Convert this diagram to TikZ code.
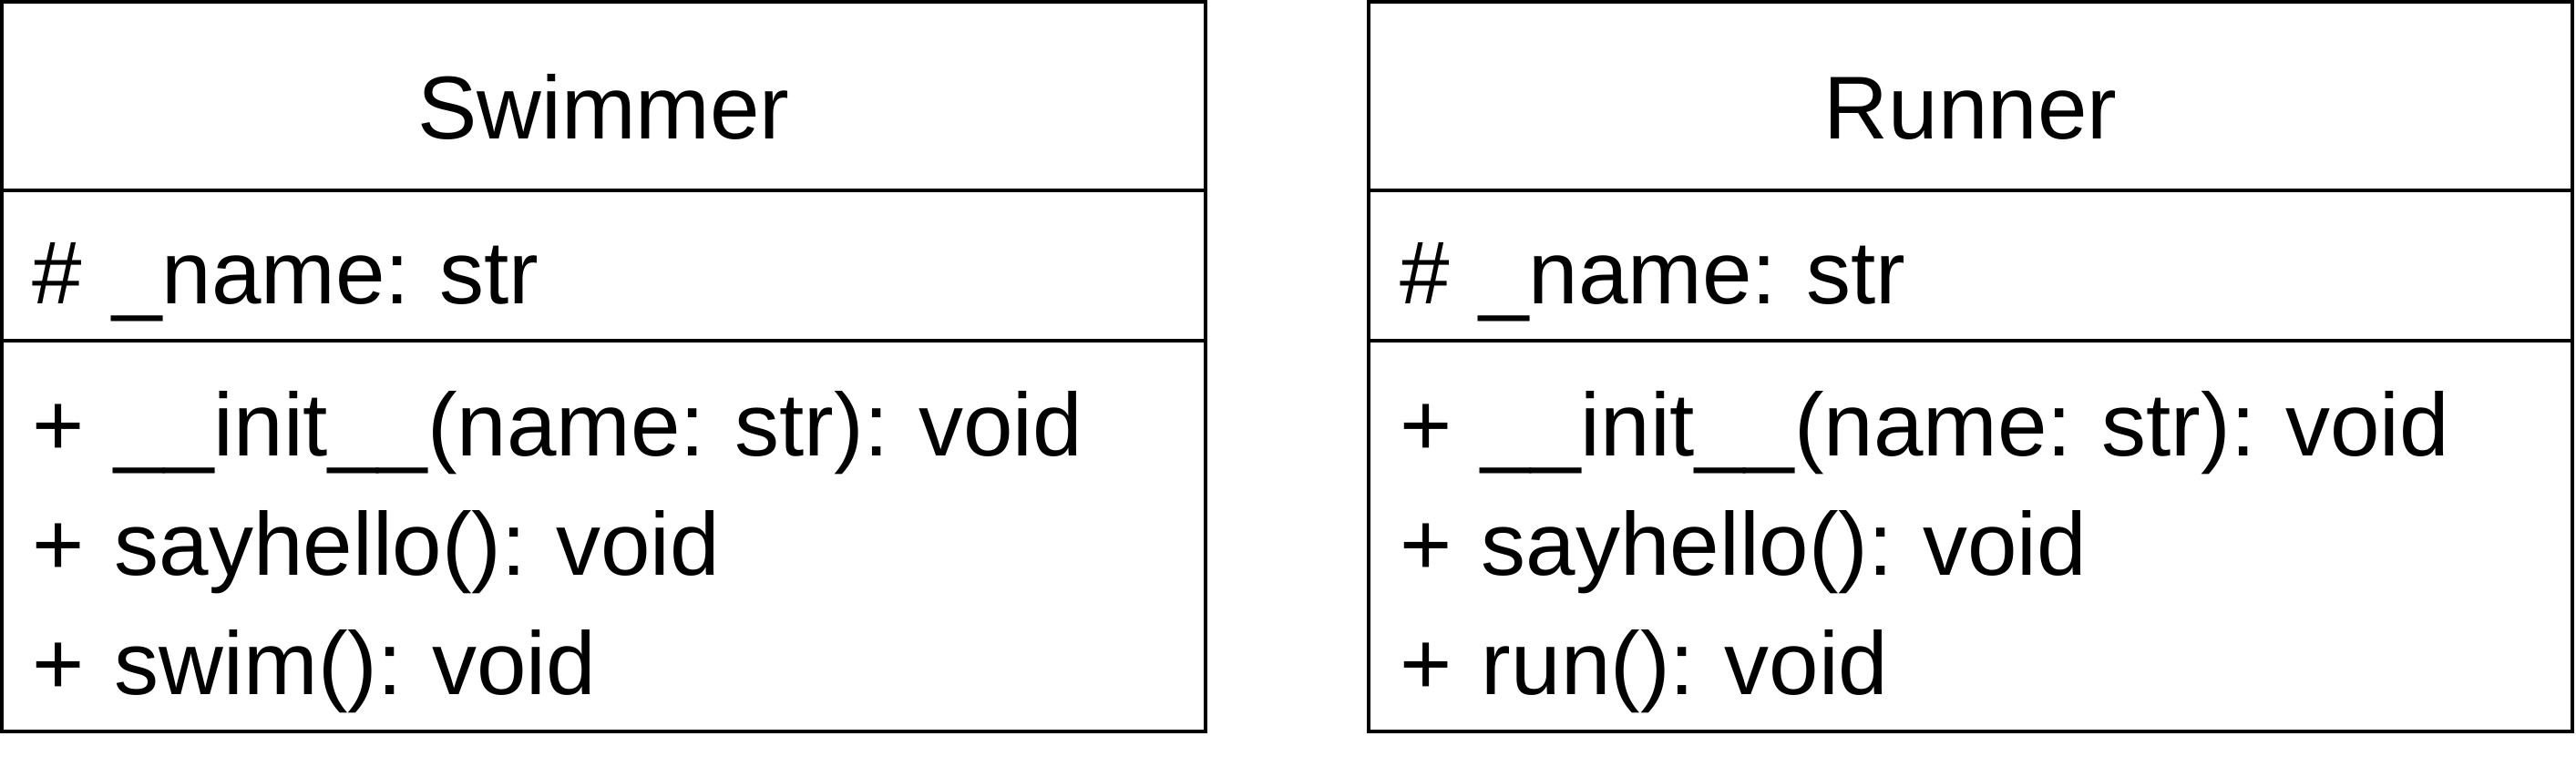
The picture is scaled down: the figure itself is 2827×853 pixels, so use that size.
\documentclass[tikz,border=0pt]{standalone}
\usepackage{fontspec}
\setmainfont{Liberation Sans}
\usepackage{tikz}
\usetikzlibrary{positioning}
\frenchspacing

\begin{document}
\begin{tikzpicture}[
    x=0.25pt, y=0.25pt,
    node distance=0pt and 44.75pt,
    part/.style={rectangle, draw=black, line width=1.2pt, minimum width=330.25pt, inner xsep=8.5pt, inner ysep=0pt, outer sep=0pt, font=\fontsize{24.5}{32.75}\selectfont},
    classname/.style={part, minimum height=51.75pt, text height=23.75pt, text depth=0pt},
    attrs/.style={part, minimum height=41.25pt, text width=313.25pt, align=left, text height=21.25pt, text depth=0pt},
    methods/.style={part, minimum height=107.25pt, text width=313.25pt, align=left, text height=20pt, text depth=63.75pt},
]
    \useasboundingbox (0,0) rectangle (2827,-853);

    % Swimmer class
    \node[classname, anchor=north west] (swimmer) at (2,-2) {Swimmer};
    \node[attrs, below=of swimmer] (swimmerattr) {\# \_name: str};
    \node[methods, below=of swimmerattr] (swimmerops) {+ \_\_init\_\_(name: str): void\\+ sayhello(): void\\+ swim(): void};

    % Runner class
    \node[classname, right=of swimmer] (runner) {Runner};
    \node[attrs, below=of runner] (runnerattr) {\# \_name: str};
    \node[methods, below=of runnerattr] (runnerops) {+ \_\_init\_\_(name: str): void\\+ sayhello(): void\\+ run(): void};

\end{tikzpicture}
\end{document}
